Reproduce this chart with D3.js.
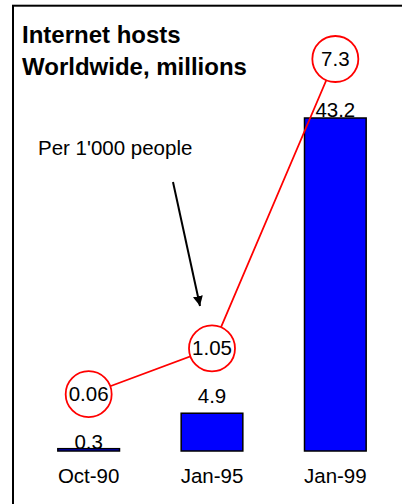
<!DOCTYPE html>
<html>
<head>
<meta charset="utf-8">
<title>Internet hosts</title>
<script src="https://d3js.org/d3.v7.min.js"></script>
<style>
  body { margin: 0; background: #fff; }
  text { font-family: "Liberation Sans", Arial, sans-serif; }
</style>
</head>
<body>
<svg width="402" height="504"></svg>
<script>
// data
var periods = ["Oct-90", "Jan-95", "Jan-99"];
var hosts = [0.3, 4.9, 43.2];          // millions
var perThousand = [0.06, 1.05, 7.3];   // hosts per 1'000 people
var labelDy = [0, -10, -1];            // where Excel put the bar labels

var width = 402, height = 504;
var svg = d3.select("svg");

// frame (runs off the right and bottom of the picture)
svg.append("rect")
  .attr("x", 13).attr("y", 5.7)
  .attr("width", 420).attr("height", 520)
  .attr("fill", "none").attr("stroke", "#000").attr("stroke-width", 2);

// scales
var x = d3.scaleBand()
  .domain(periods)
  .range([27, 397])
  .paddingInner(0.5)
  .paddingOuter(0.25);

var yBar = d3.scaleLinear().domain([0, 43.2]).range([451, 118]);
var yLine = d3.scaleLinear().domain([0, 7.3]).range([397, 59]);

// bars
svg.selectAll(".bar")
  .data(hosts)
  .enter().append("rect")
  .attr("class", "bar")
  .attr("x", function (d, i) { return x(periods[i]); })
  .attr("y", function (d) { return yBar(d); })
  .attr("width", x.bandwidth())
  .attr("height", function (d) { return yBar(0) - yBar(d); })
  .attr("fill", "#0000ff")
  .attr("stroke", "#000")
  .attr("stroke-width", 1.5);

// bar values
svg.selectAll(".barlabel")
  .data(hosts)
  .enter().append("text")
  .attr("x", function (d, i) { return x(periods[i]) + x.bandwidth() / 2; })
  .attr("y", function (d, i) { return yBar(d) + labelDy[i]; })
  .attr("text-anchor", "middle")
  .style("font-size", "20.5px")
  .text(function (d) { return d; });

// category axis
var axis = svg.append("g")
  .attr("transform", "translate(0,468)")
  .call(d3.axisBottom(x).tickSize(0).tickPadding(0));
axis.select(".domain").remove();
axis.selectAll("text")
  .attr("dy", "0.71em")
  .attr("fill", "#000")
  .style("font-family", "'Liberation Sans', Arial, sans-serif")
  .style("font-size", "20.5px");

// line per 1'000 people
var line = d3.line()
  .x(function (d, i) { return x(periods[i]) + x.bandwidth() / 2; })
  .y(function (d) { return yLine(d); });

svg.append("path")
  .datum(perThousand)
  .attr("d", line)
  .attr("fill", "none")
  .attr("stroke", "#ff0000")
  .attr("stroke-width", 1.8);

svg.selectAll(".dot")
  .data(perThousand)
  .enter().append("circle")
  .attr("cx", function (d, i) { return x(periods[i]) + x.bandwidth() / 2; })
  .attr("cy", function (d) { return yLine(d); })
  .attr("r", 23)
  .attr("fill", "#fff")
  .attr("stroke", "#ff0000")
  .attr("stroke-width", 1.8);

svg.selectAll(".dotlabel")
  .data(perThousand)
  .enter().append("text")
  .attr("x", function (d, i) { return x(periods[i]) + x.bandwidth() / 2; })
  .attr("y", function (d) { return yLine(d) + 7; })
  .attr("text-anchor", "middle")
  .style("font-size", "20.5px")
  .text(function (d) { return d; });

// title
svg.append("text")
  .attr("x", 22).attr("y", 43)
  .style("font-size", "24px").style("font-weight", "bold")
  .text("Internet hosts");
svg.append("text")
  .attr("x", 22).attr("y", 75)
  .style("font-size", "24px").style("font-weight", "bold")
  .text("Worldwide, millions");

// annotation with arrow
svg.append("defs").append("marker")
  .attr("id", "head")
  .attr("viewBox", "0 0 10 10")
  .attr("refX", 10).attr("refY", 5)
  .attr("markerWidth", 5).attr("markerHeight", 5)
  .attr("markerUnits", "strokeWidth")
  .attr("orient", "auto")
  .append("path")
  .attr("d", "M0,0 L10,5 L0,10 Z")
  .attr("fill", "#000");

svg.append("text")
  .attr("x", 38).attr("y", 155)
  .style("font-size", "20.5px")
  .text("Per 1'000 people");

svg.append("line")
  .attr("x1", 173).attr("y1", 182)
  .attr("x2", 200).attr("y2", 306)
  .attr("stroke", "#000")
  .attr("stroke-width", 2)
  .attr("marker-end", "url(#head)");
</script>
</body>
</html>
